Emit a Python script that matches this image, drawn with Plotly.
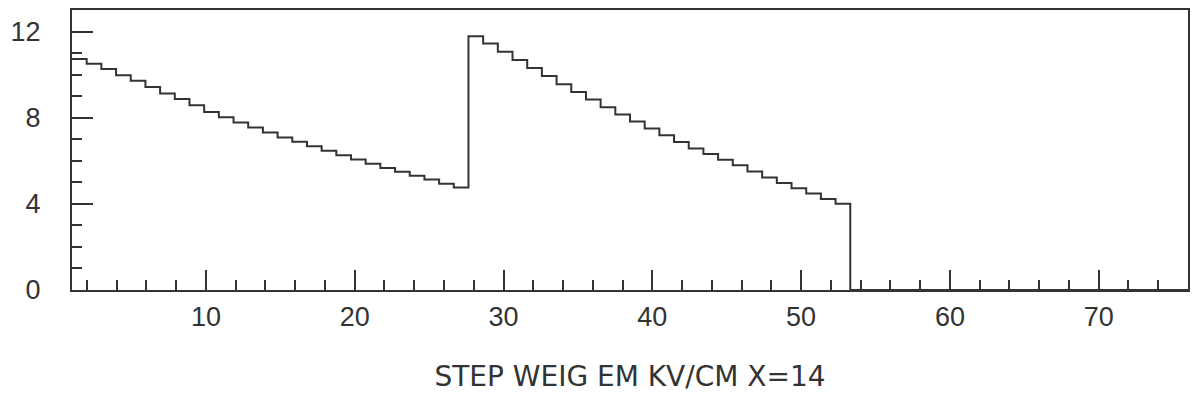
import numpy as np
import plotly.graph_objects as go

# Histogram definition
x_low = 1.0
x_high = 76.0
n_bins = 76

seg1_values = [10.73, 10.50, 10.26, 9.97, 9.72, 9.43, 9.12, 8.87, 8.58, 8.27,
               8.02, 7.78, 7.54, 7.31, 7.08, 6.88, 6.67, 6.46, 6.26, 6.06,
               5.86, 5.67, 5.49, 5.31, 5.13, 4.93, 4.76]
seg2_values = [11.78, 11.44, 11.06, 10.68, 10.31, 9.93, 9.55, 9.19, 8.84, 8.49,
               8.15, 7.82, 7.50, 7.18, 6.87, 6.57, 6.32, 6.05, 5.79, 5.50,
               5.22, 4.97, 4.72, 4.48, 4.23, 4.00]
tail_values = [0.0] * (n_bins - len(seg1_values) - len(seg2_values))

x_tickvals = [10, 20, 30, 40, 50, 60, 70]
y_tickvals = [0, 4, 8, 12]
x_title = "STEP WEIG EM KV/CM X=14"

values = seg1_values + seg2_values + tail_values
edges = np.linspace(x_low, x_high, n_bins + 1)
xs = list(edges)
ys = values + [values[-1]]

ink = "#333333"
font_family = "Liberation Sans, Arial, sans-serif"
title_family = "DejaVu Sans, Verdana, sans-serif"

fig = go.Figure()
fig.add_trace(go.Scatter(x=xs, y=ys, mode="lines", line=dict(shape="hv", color=ink, width=2),
                         showlegend=False, hoverinfo="skip"))

fig.update_layout(
    width=1196, height=403,
    margin=dict(l=72, r=6, t=10, b=113),
    paper_bgcolor="white", plot_bgcolor="white",
    font=dict(family=font_family, color=ink),
)
fig.update_xaxes(
    range=[x_low, x_high], tickvals=x_tickvals, ticktext=[str(v) for v in x_tickvals],
    ticks="inside", ticklen=20, tickwidth=2, tickcolor=ink,
    minor=dict(ticks="inside", ticklen=10, tickwidth=2, tickcolor=ink, dtick=2, tick0=0, showgrid=False),
    showline=True, linecolor=ink, linewidth=2, mirror=True,
    showgrid=False, zeroline=False,
    tickfont=dict(size=27, family=font_family, color=ink),
    ticklabelstandoff=2,
    title=dict(text=x_title, font=dict(size=28, family=title_family, color=ink), standoff=35),
)
fig.update_yaxes(
    range=[0, 13], tickvals=y_tickvals, ticktext=[str(v) for v in y_tickvals],
    ticks="inside", ticklen=21, tickwidth=2, tickcolor=ink,
    minor=dict(ticks="inside", ticklen=10, tickwidth=2, tickcolor=ink, dtick=1, tick0=0, showgrid=False),
    showline=True, linecolor=ink, linewidth=2, mirror=True,
    showgrid=False, zeroline=False,
    tickfont=dict(size=27, family=font_family, color=ink),
    ticklabelstandoff=24,
)

fig.write_html("out.html")
